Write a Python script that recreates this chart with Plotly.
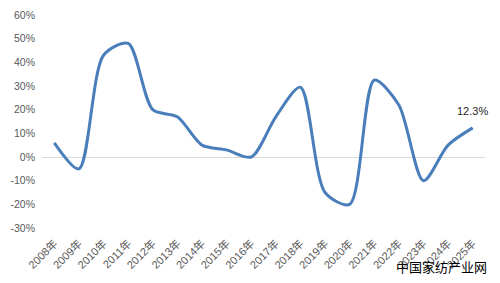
import plotly.graph_objects as go

years = ["2008年","2009年","2010年","2011年","2012年","2013年","2014年","2015年","2016年",
         "2017年","2018年","2019年","2020年","2021年","2022年","2023年","2024年","2025年"]
growth = [6, -5, 43, 48, 20, 17, 5, 3, 0, 17, 29.5, -15, -20, 32.5, 22, -10, 5, 12.3]
y_ticks = [-30, -20, -10, 0, 10, 20, 30, 40, 50, 60]
y_labels = [f"{v}%" for v in y_ticks]

fig = go.Figure()
fig.add_trace(go.Scatter(x=years, y=growth, mode="lines",
                         line=dict(color="#4a7ebb", width=3, shape="spline", smoothing=0.8),
                         hoverinfo="skip", showlegend=False))
fig.add_annotation(x=years[-1], y=growth[-1], text=f"{growth[-1]}%", showarrow=False,
                   xanchor="center", yanchor="bottom", yshift=9,
                   font=dict(size=11, color="#262626", family="Liberation Sans, Noto Sans CJK SC"))
fig.add_annotation(xref="paper", yref="paper", x=1.01, y=-0.235, text="中国家纺产业网",
                   showarrow=False, xanchor="right", yanchor="bottom",
                   font=dict(size=13, color="#000000", family="Noto Sans CJK SC"))
fig.update_layout(
    width=500, height=283,
    margin=dict(l=42, r=15, t=15, b=55),
    paper_bgcolor="white", plot_bgcolor="white",
    font=dict(family="Liberation Sans, Noto Sans CJK SC", size=11, color="#595959"),
    xaxis=dict(type="category", range=[-0.5, 17.5], showgrid=False, zeroline=False,
               showline=False, tickangle=-45, ticklabelstandoff=6, automargin=False,
               tickfont=dict(size=11, color="#595959")),
    yaxis=dict(range=[-30, 60], tickvals=y_ticks, ticktext=y_labels, showgrid=False,
               zeroline=True, zerolinecolor="#d9d9d9", zerolinewidth=1, showline=False,
               automargin=False,
               tickfont=dict(size=10.5, color="#595959"), ticklabelstandoff=6),
)
fig.write_html("out.html")
